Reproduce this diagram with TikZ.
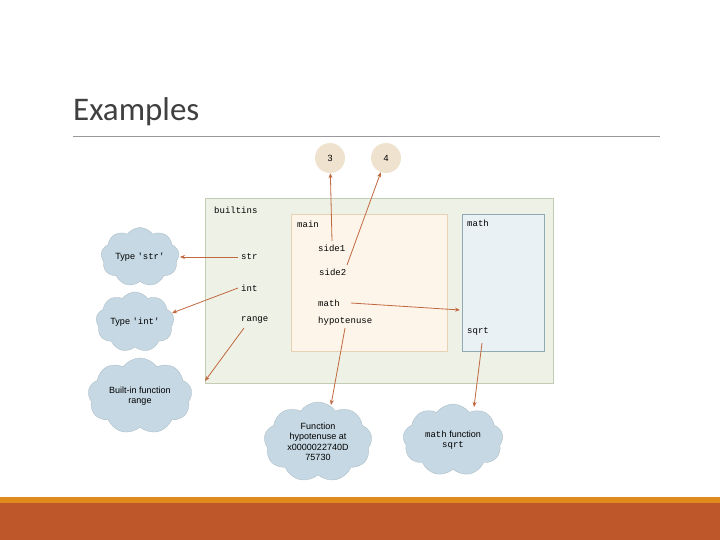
\documentclass[tikz,border=0pt]{standalone}
\usepackage{fontspec}
\setmainfont{Liberation Sans}
\newfontfamily\titlefont{Carlito}
\setmonofont{Liberation Mono}
\usetikzlibrary{shapes.symbols,arrows.meta}
\definecolor{arr}{HTML}{C0683F}
\definecolor{cloudc}{HTML}{C5D8E3}
\definecolor{valc}{RGB}{239,227,208}
\begin{document}
\begin{tikzpicture}[x=1pt,y=-1pt,
  lbl/.style={font=\ttfamily\fontsize{9}{10}\selectfont,inner sep=1pt,anchor=west},
  cl/.style={cloud,cloud puffs=9,cloud puff arc=110,aspect=1.4,fill=cloudc,draw=cloudc!85!black,line width=0.3pt,align=center,font=\fontsize{9}{10.5}\selectfont,inner sep=0pt},
  val/.style={circle,fill=valc,minimum size=30pt,inner sep=0pt,font=\fontsize{9}{10}\selectfont},
  ar/.style={draw=arr,line width=0.8pt,-{Stealth[length=5pt,width=4pt]}}]
\useasboundingbox (0,0) rectangle (720,540);
\fill[white] (0,0) rectangle (720,540);
\node[anchor=base west,inner sep=0pt,font=\titlefont\fontsize{33}{36}\selectfont,text=black!75] (title) at (73,121) {Examples};
\draw[black!40,line width=0.6pt] (73,136) -- (660,136);
\fill[fill={rgb,255:red,224;green,138;blue,30}] (0,497) rectangle (720,503);
\fill[fill={rgb,255:red,190;green,88;blue,42}] (0,503) rectangle (720,540);
% boxes
\draw[fill={rgb,255:red,238;green,241;blue,230},draw={rgb,255:red,195;green,205;blue,180},line width=1pt] (205,199) rectangle (553,383);
\draw[fill={rgb,255:red,253;green,245;blue,234},draw={rgb,255:red,232;green,210;blue,180},line width=1pt] (291,215) rectangle (447,351);
\draw[fill={rgb,255:red,233;green,241;blue,245},draw={rgb,255:red,143;green,169;blue,181},line width=1pt] (462,215) rectangle (544,351);
\node[lbl] (bl) at (213,210) {builtins};
\node[lbl] (mn) at (296,224) {main};
\node[lbl] (mt) at (466,223) {math};
\node[lbl] (s1) at (317,248) {side1};
\node[lbl] (s2) at (318,272) {side2};
\node[lbl] (str) at (240,257) {str};
\node[lbl] (int) at (240,288) {int};
\node[lbl] (rng) at (240,320) {range};
\node[lbl] (mm) at (317,303) {math};
\node[lbl] (hyp) at (317,321) {hypotenuse};
\node[lbl] (sq) at (466,331) {sqrt};
% values
\node[val] (v3) at (330,158) {3};
\node[val] (v4) at (386,158) {4};
% clouds
\node[cl,minimum width=78pt,minimum height=56pt] (cstr) at (140,257) {Type \texttt{'str'}};
\node[cl,minimum width=78pt,minimum height=60pt] (cint) at (135,322) {Type \texttt{'int'}};
\node[cl,minimum width=104pt,minimum height=76pt] (crng) at (140,396) {Built-in function\\range};
\node[cl,minimum width=108pt,minimum height=80pt] (chyp) at (318,442) {Function\\hypotenuse at\\x0000022740D\\75730};
\node[cl,minimum width=100pt,minimum height=72pt] (csq) at (453,440) {\texttt{math} function\\\texttt{sqrt}};
% arrows
\coordinate (a1) at (332,241); \coordinate (a2) at (347,265);
\coordinate (a3) at (238,257); \coordinate (a4) at (238,288);
\coordinate (a5) at (244,328); \coordinate (a6) at (351,303);
\coordinate (a7) at (345,328); \coordinate (a8) at (482,343);
\coordinate (t6) at (460,310);
\draw[ar] (a1) -- (v3);
\draw[ar] (a2) -- (v4);
\draw[ar] (a3) -- (180,257);
\draw[ar] (a4) -- (172,313);
\draw[ar] (a5) -- (205,381);
\draw[ar] (a6) -- (t6);
\draw[ar] (a7) -- (331,405);
\draw[ar] (a8) -- (474,407);
\end{tikzpicture}
\end{document}
